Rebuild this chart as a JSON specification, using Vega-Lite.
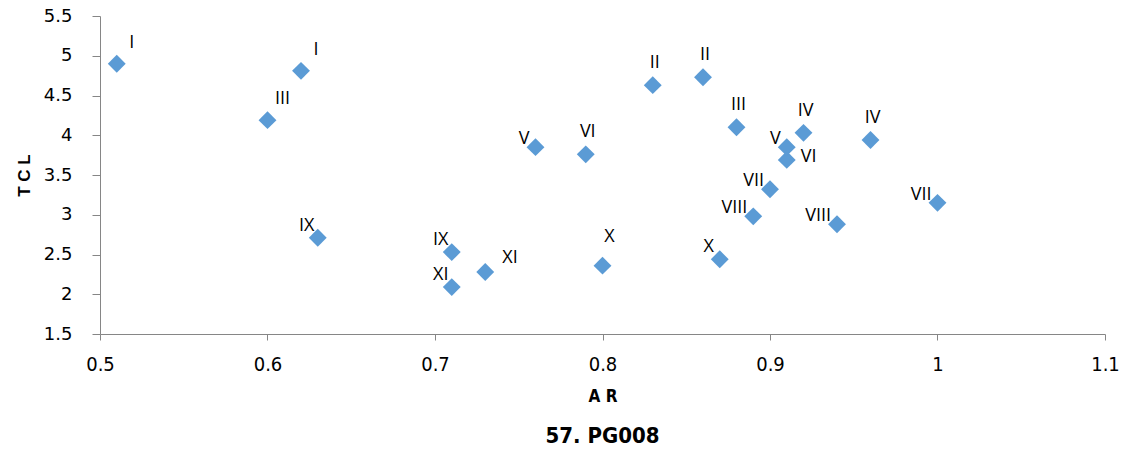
{
  "$schema": "https://vega.github.io/schema/vega-lite/v6.json",
  "width": 1005,
  "height": 318,
  "autosize": {"type": "none"},
  "padding": {"left": 100, "top": 16, "right": 24, "bottom": 119},
  "background": "white",
  "title": {
    "text": "57. PG008",
    "orient": "bottom",
    "anchor": "middle",
    "frame": "group",
    "font": "DejaVu Sans Condensed, Roboto Condensed, Roboto",
    "fontSize": 22,
    "fontWeight": "bold",
    "color": "#000000",
    "offset": 22
  },
  "config": {
    "view": {"stroke": null},
    "axis": {"grid": false, "domainColor": "#868686", "tickColor": "#868686", "domainWidth": 1, "tickWidth": 1, "labelFlush": false}
  },
  "data": {
    "values": [
      {"ar": 0.51, "tcl": 4.90, "label": "I", "side": "ur"},
      {"ar": 0.62, "tcl": 4.81, "label": "I", "side": "ur"},
      {"ar": 0.60, "tcl": 4.19, "label": "III", "side": "ur"},
      {"ar": 0.63, "tcl": 2.71, "label": "IX", "side": "ul"},
      {"ar": 0.71, "tcl": 2.53, "label": "IX", "side": "ul"},
      {"ar": 0.71, "tcl": 2.09, "label": "XI", "side": "ul"},
      {"ar": 0.73, "tcl": 2.28, "label": "XI", "side": "rr"},
      {"ar": 0.76, "tcl": 3.85, "label": "V", "side": "l"},
      {"ar": 0.79, "tcl": 3.76, "label": "VI", "side": "u"},
      {"ar": 0.80, "tcl": 2.36, "label": "X", "side": "uu"},
      {"ar": 0.83, "tcl": 4.63, "label": "II", "side": "u"},
      {"ar": 0.86, "tcl": 4.73, "label": "II", "side": "u"},
      {"ar": 0.87, "tcl": 2.44, "label": "X", "side": "ul"},
      {"ar": 0.88, "tcl": 4.10, "label": "III", "side": "u"},
      {"ar": 0.89, "tcl": 2.98, "label": "VIII", "side": "l"},
      {"ar": 0.90, "tcl": 3.32, "label": "VII", "side": "l"},
      {"ar": 0.91, "tcl": 3.69, "label": "VI", "side": "r"},
      {"ar": 0.91, "tcl": 3.85, "label": "V", "side": "l"},
      {"ar": 0.92, "tcl": 4.03, "label": "IV", "side": "u"},
      {"ar": 0.94, "tcl": 2.88, "label": "VIII", "side": "l"},
      {"ar": 0.96, "tcl": 3.94, "label": "IV", "side": "u"},
      {"ar": 1.00, "tcl": 3.15, "label": "VII", "side": "l"}
    ]
  },
  "encoding": {
    "x": {
      "field": "ar",
      "type": "quantitative",
      "scale": {"domain": [0.5, 1.1], "nice": false, "zero": false},
      "axis": {
        "title": "A R",
        "values": [0.5, 0.6, 0.7, 0.8, 0.9, 1, 1.1],
        "format": "~g",
        "tickSize": 6,
        "labelPadding": 14,
        "labelFont": "DejaVu Sans Condensed, Roboto Condensed, Roboto",
        "labelFontSize": 20,
        "labelColor": "#000000",
        "titleFont": "DejaVu Sans Condensed, Roboto Condensed, Roboto",
        "titleFontSize": 17,
        "titleFontWeight": "bold",
        "titleColor": "#000000",
        "titlePadding": 14
      }
    },
    "y": {
      "field": "tcl",
      "type": "quantitative",
      "scale": {"domain": [1.5, 5.5], "nice": false, "zero": false},
      "axis": {
        "title": "T C L",
        "values": [1.5, 2, 2.5, 3, 3.5, 4, 4.5, 5, 5.5],
        "format": "~g",
        "tickSize": 8,
        "labelPadding": 20,
        "labelFont": "DejaVu Sans",
        "labelFontSize": 18,
        "labelColor": "#000000",
        "titleFont": "Liberation Sans",
        "titleFontSize": 17,
        "titleFontWeight": "bold",
        "titleColor": "#000000",
        "titlePadding": 10
      }
    }
  },
  "layer": [
    {
      "mark": {"type": "point", "shape": "diamond", "filled": true, "size": 320, "color": "#5b9bd5", "opacity": 1}
    },
    {
      "transform": [{"filter": "datum.side === 'u'"}],
      "mark": {"type": "text", "font": "Open Sans", "fontSize": 18, "color": "#000000", "dx": 2, "dy": -22, "align": "center", "baseline": "middle"},
      "encoding": {"text": {"field": "label"}}
    },
    {
      "transform": [{"filter": "datum.side === 'uu'"}],
      "mark": {"type": "text", "font": "Open Sans", "fontSize": 18, "color": "#000000", "dx": 7, "dy": -29, "align": "center", "baseline": "middle"},
      "encoding": {"text": {"field": "label"}}
    },
    {
      "transform": [{"filter": "datum.side === 'ur'"}],
      "mark": {"type": "text", "font": "Open Sans", "fontSize": 18, "color": "#000000", "dx": 15, "dy": -21, "align": "center", "baseline": "middle"},
      "encoding": {"text": {"field": "label"}}
    },
    {
      "transform": [{"filter": "datum.side === 'ul'"}],
      "mark": {"type": "text", "font": "Open Sans", "fontSize": 18, "color": "#000000", "dx": -11, "dy": -12, "align": "center", "baseline": "middle"},
      "encoding": {"text": {"field": "label"}}
    },
    {
      "transform": [{"filter": "datum.side === 'l'"}],
      "mark": {"type": "text", "font": "Open Sans", "fontSize": 18, "color": "#000000", "dx": -6, "dy": -8, "align": "right", "baseline": "middle"},
      "encoding": {"text": {"field": "label"}}
    },
    {
      "transform": [{"filter": "datum.side === 'r'"}],
      "mark": {"type": "text", "font": "Open Sans", "fontSize": 18, "color": "#000000", "dx": 14, "dy": -3, "align": "left", "baseline": "middle"},
      "encoding": {"text": {"field": "label"}}
    },
    {
      "transform": [{"filter": "datum.side === 'rr'"}],
      "mark": {"type": "text", "font": "Open Sans", "fontSize": 18, "color": "#000000", "dx": 17, "dy": -14, "align": "left", "baseline": "middle"},
      "encoding": {"text": {"field": "label"}}
    }
  ]
}
